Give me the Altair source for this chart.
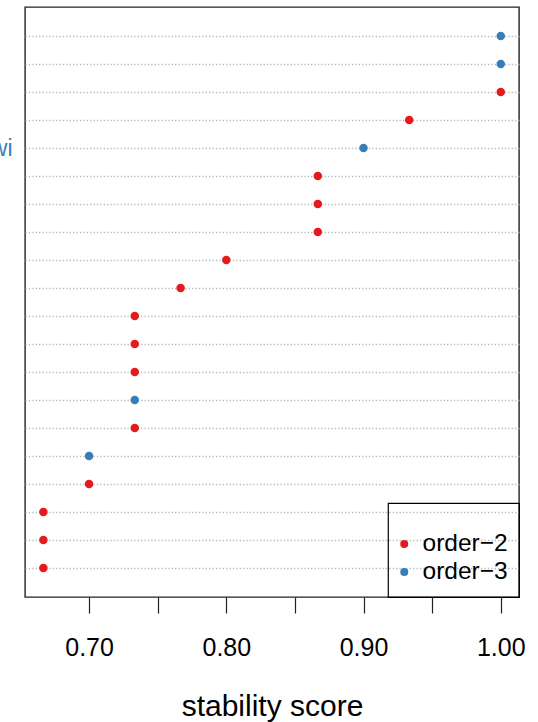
import json
import altair as alt
import pandas as pd

# Stability score of each term, listed from the top row down
scores = [1.00, 1.00, 1.00, 0.9333, 0.90, 0.8667, 0.8667, 0.8667, 0.80, 0.7667,
          0.7333, 0.7333, 0.7333, 0.7333, 0.7333, 0.70, 0.70, 0.6667, 0.6667, 0.6667]
orders = ["order−3", "order−3", "order−2", "order−2", "order−3", "order−2", "order−2",
          "order−2", "order−2", "order−2", "order−2", "order−2", "order−2", "order−3",
          "order−2", "order−3", "order−2", "order−2", "order−2", "order−2"]
row_labels = ["", "", "", "", "wi", "", "", "", "", "",
              "", "", "", "", "", "", "", "", "", ""]

x_ticks = [0.70, 0.75, 0.80, 0.85, 0.90, 0.95, 1.00]
order_names = ["order−2", "order−3"]
order_colors = ["#E41A1C", "#377EB8"]

n = len(scores)
rows = [n - i for i in range(n)]  # top row gets the highest position
df = pd.DataFrame({"row": rows, "score": scores, "order": orders, "label": row_labels})

label_lookup = [""] * (n + 1)
for r, lab in zip(rows, row_labels):
    label_lookup[r] = lab
y_label_expr = json.dumps(label_lookup) + "[datum.value]"

FONT = "Liberation Sans"

chart = alt.Chart(df).mark_circle(size=72, opacity=1).encode(
    x=alt.X(
        "score:Q",
        scale=alt.Scale(domain=[0.6533, 1.0133], nice=False, zero=False),
        axis=alt.Axis(
            values=x_ticks,
            labelExpr="round(datum.value * 100) % 10 == 0 ? format(datum.value, '.2f') : ''",
            grid=False,
            domain=False,
            tickSize=16,
            tickColor="#222222",
            tickWidth=1.2,
            labelFontSize=25,
            labelFont=FONT,
            labelColor="black",
            labelPadding=22,
            labelFlush=False,
            labelOverlap=False,
            title="stability score",
            titleFont=FONT,
            titleFontSize=30,
            titleFontWeight="normal",
            titleColor="black",
            titlePadding=31,
        ),
    ),
    y=alt.Y(
        "row:Q",
        scale=alt.Scale(domain=[-0.04, n + 1.04], nice=False, zero=False),
        axis=alt.Axis(
            values=rows,
            labelExpr=y_label_expr,
            grid=True,
            gridColor="#b8b8b8",
            gridDash=[1.3, 2.1],
            gridWidth=1.3,
            ticks=False,
            domain=False,
            labelFontSize=23,
            labelFont=FONT,
            labelColor="#377EB8",
            labelPadding=13,
            title=None,
        ),
    ),
    color=alt.Color(
        "order:N",
        scale=alt.Scale(domain=order_names, range=order_colors),
        legend=alt.Legend(
            title=" ",
            titleFontSize=11,
            titlePadding=5,
            orient="bottom-right",
            offset=0,
            symbolType="circle",
            symbolSize=64,
            symbolStrokeWidth=0,
            symbolOffset=-7,
            labelFontSize=24.5,
            labelFont=FONT,
            labelColor="black",
            labelOffset=6,
            clipHeight=28,
            rowPadding=0,
            padding=11,
            strokeColor="black",
        ),
    ),
).properties(
    width=494,
    height=590,
    autosize=alt.AutoSizeParams(type="none"),
    padding={"left": 25, "top": 7, "right": 19, "bottom": 125},
).configure_view(
    stroke="#222222",
    strokeWidth=1.4,
).configure_legend(
    strokeWidth=1.2,
)

chart.save("out.html", embed_options={"renderer": "svg", "actions": False})
